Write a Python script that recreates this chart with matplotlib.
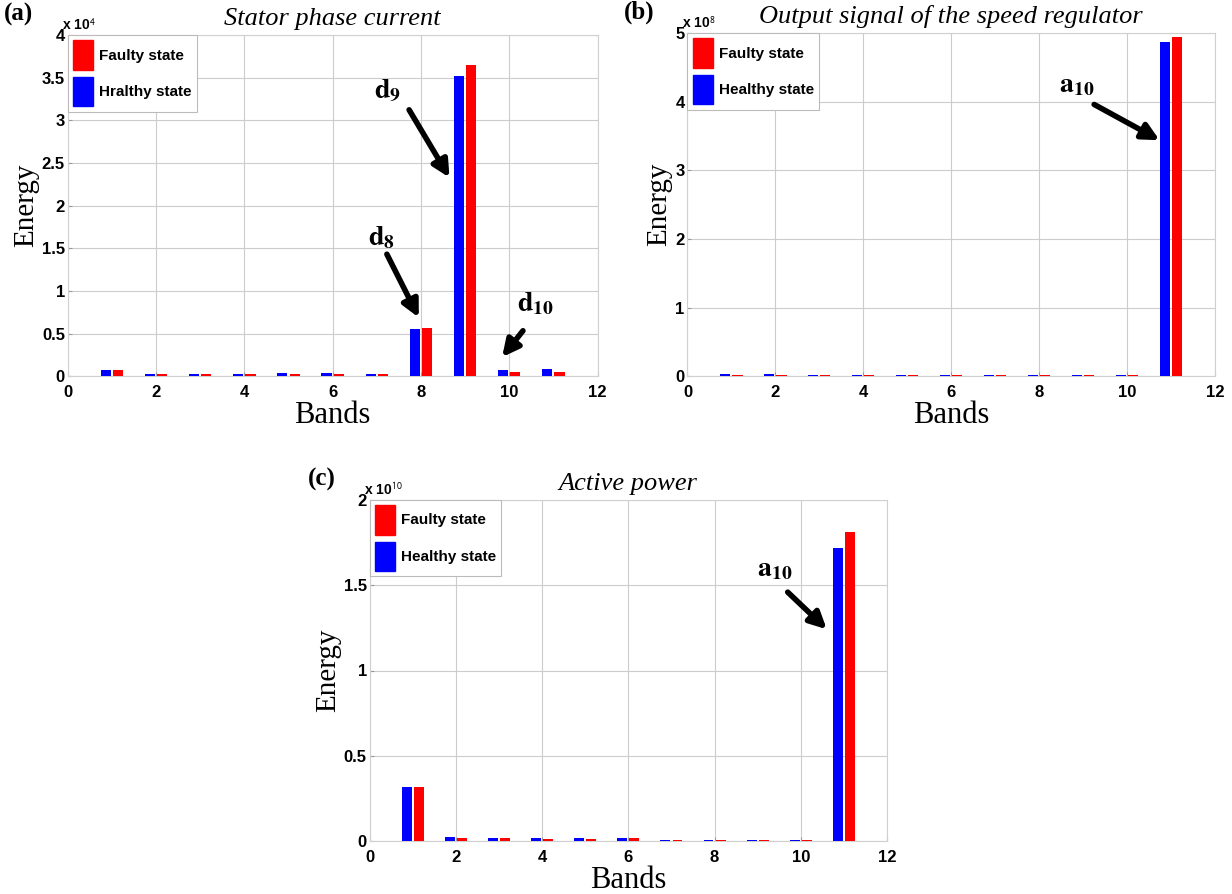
"""
Band energies of healthy vs faulty states (three signals).
"""
import matplotlib

matplotlib.use("Agg")
import matplotlib.pyplot as plt
import numpy as np
from matplotlib.patches import Patch
from matplotlib.ticker import FuncFormatter

plt.rcParams["mathtext.fontset"] = "stix"

bands = np.arange(1, 12)

# (a) stator phase current, energy in units of 1e4
current_faulty = [0.08, 0.024, 0.024, 0.024, 0.033, 0.033, 0.024, 0.57, 3.65, 0.05, 0.055]
current_healthy = [0.08, 0.024, 0.024, 0.024, 0.035, 0.035, 0.024, 0.55, 3.52, 0.07, 0.09]

# (b) output signal of the speed regulator, units of 1e8
speed_faulty = [0.025, 0.025, 0.022, 0.022, 0.022, 0.02, 0.02, 0.02, 0.02, 0.02, 4.95]
speed_healthy = [0.03, 0.03, 0.025, 0.025, 0.025, 0.02, 0.02, 0.02, 0.02, 0.02, 4.87]

# (c) active power, units of 1e10
power_faulty = [0.315, 0.018, 0.018, 0.016, 0.016, 0.018, 0.008, 0.008, 0.006, 0.006, 1.81]
power_healthy = [0.32, 0.025, 0.02, 0.018, 0.018, 0.02, 0.01, 0.01, 0.006, 0.006, 1.72]

TICK_FONT = ["Liberation Sans", "DejaVu Sans"]
SERIF = ["Liberation Serif", "DejaVu Serif"]


def plot_panel(ax, faulty, healthy, exp, ymax, ystep, title, letter, healthy_label,
               notes):
    scale = 10.0 ** exp
    f = np.array(faulty) * scale
    h = np.array(healthy) * scale
    ax.bar(bands - 0.14, h, width=0.23, color="#0000ff", zorder=3)
    ax.bar(bands + 0.14, f, width=0.23, color="#ff0000", zorder=3)

    ax.set_xlim(0, 12)
    ax.set_ylim(0, ymax * scale)
    ax.set_xticks(np.arange(0, 13, 2))
    ax.set_yticks(np.arange(0, ymax + ystep / 2, ystep) * scale)
    ax.yaxis.set_major_formatter(FuncFormatter(lambda v, p: f"{v / scale:g}"))
    ax.xaxis.set_major_formatter(FuncFormatter(lambda v, p: f"{v:g}"))
    for lab in ax.get_xticklabels() + ax.get_yticklabels():
        lab.set_family(TICK_FONT)
        lab.set_fontweight("bold")
        lab.set_fontsize(12)
    ax.tick_params(direction="in", length=3, color="#999999")
    ax.tick_params(axis="x", pad=6)
    ax.tick_params(axis="y", pad=2)
    ax.grid(True, color="#cccccc", linewidth=0.8, zorder=0)
    for sp in ax.spines.values():
        sp.set_color("#d0d0d0")

    ax.set_xlabel("Bands", family=SERIF, fontsize=22, labelpad=1)
    ax.set_ylabel("Energy", family=SERIF, fontsize=21, labelpad=2)
    ax.set_title(title, family=SERIF, style="italic", fontsize=19, pad=7)
    ax.text(-0.01, 1.005, r"x 10$^{\mathsf{%d}}$" % exp, transform=ax.transAxes,
            family=TICK_FONT, fontweight="bold", fontsize=10, va="bottom", ha="left")
    ax.text(-0.12, 1.025, letter, transform=ax.transAxes, family=SERIF,
            fontweight="bold", fontsize=18, va="bottom")

    handles = [Patch(facecolor="#ff0000", edgecolor="#ff0000"),
               Patch(facecolor="#0000ff", edgecolor="#0000ff")]
    leg = ax.legend(handles, ["Faulty state", healthy_label], loc="upper left",
                    borderaxespad=0, handlelength=1.3, handleheight=2.6,
                    handletextpad=0.4, borderpad=0.35, labelspacing=0.45,
                    fancybox=False, framealpha=1,
                    prop={"family": TICK_FONT, "weight": "bold", "size": 11})
    leg.get_frame().set_edgecolor("#bbbbbb")
    leg.get_frame().set_linewidth(0.8)

    for label, txt_xy, tail, head in notes:
        ax.annotate("", xy=(head[0], head[1] * scale), xytext=(tail[0], tail[1] * scale),
                    arrowprops=dict(arrowstyle="-|>,head_length=1.0,head_width=0.5",
                                    color="black", lw=4), zorder=5)
        ax.text(txt_xy[0], txt_xy[1] * scale, label, fontsize=20,
                ha="center", va="center", zorder=5)


fig = plt.figure(figsize=(12.32, 8.94), dpi=100)
ax_a = fig.add_axes([0.055, 0.579, 0.430, 0.382])
ax_b = fig.add_axes([0.558, 0.579, 0.428, 0.384])
ax_c = fig.add_axes([0.300, 0.059, 0.420, 0.382])

plot_panel(ax_a, current_faulty, current_healthy, 4, 4, 0.5, "Stator phase current",
           "(a)", "Hralthy state",
           [(r"$\mathbf{d_{8}}$", (7.1, 1.63), (7.2, 1.46), (7.98, 0.66)),
            (r"$\mathbf{d_{9}}$", (7.25, 3.35), (7.7, 3.15), (8.68, 2.3)),
            (r"$\mathbf{d_{10}}$", (10.6, 0.86), (10.35, 0.56), (9.8, 0.2))])
plot_panel(ax_b, speed_faulty, speed_healthy, 8, 5, 1, "Output signal of the speed regulator",
           "(b)", "Healthy state",
           [(r"$\mathbf{a_{10}}$", (8.85, 4.25), (9.2, 3.98), (10.8, 3.42))])
plot_panel(ax_c, power_faulty, power_healthy, 10, 2, 0.5, "Active power",
           "(c)", "Healthy state",
           [(r"$\mathbf{a_{10}}$", (9.4, 1.6), (9.65, 1.47), (10.65, 1.23))])

fig.savefig("out.png", dpi=100)
